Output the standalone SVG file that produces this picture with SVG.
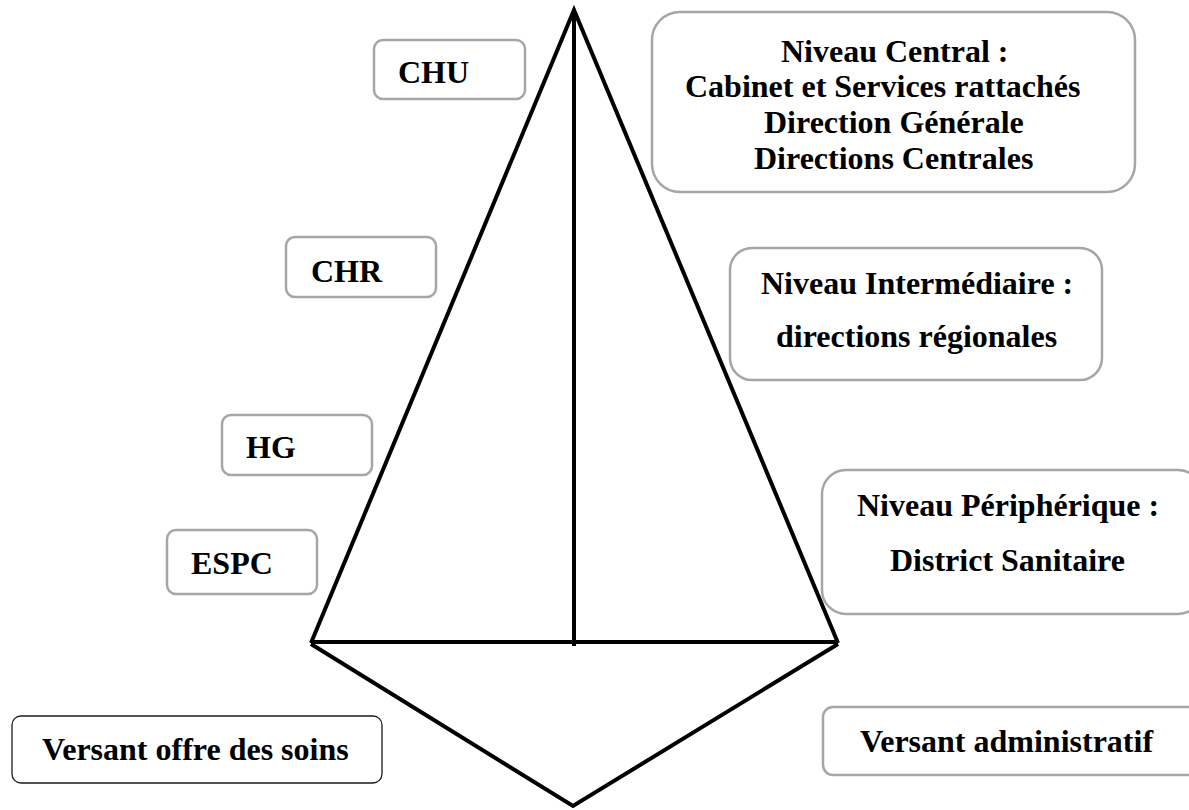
<svg xmlns="http://www.w3.org/2000/svg" width="1189" height="810" viewBox="0 0 1189 810">
<style>
.box{fill:#fff;stroke:#a6a6a6;stroke-width:2.5}
.dark{fill:#fff;stroke:#1a1a1a;stroke-width:1.3}
.t{font-family:"Liberation Serif","Times New Roman",serif;font-weight:bold;font-size:32px;fill:#000}
.ln{stroke:#000;stroke-width:4;fill:none;stroke-linejoin:miter;stroke-linecap:butt}
</style>
<rect width="1189" height="810" fill="#fff"/>
<g id="connectors">
<polyline class="ln" points="311,643 574,10 838,643"/>
<line class="ln" x1="574" y1="10" x2="574" y2="646"/>
<line class="ln" x1="311" y1="642" x2="838" y2="642"/>
<polyline class="ln" points="311,644 573,806 838,644"/>
</g>
<g id="chu"><rect class="box" x="374" y="40" width="151" height="59" rx="9"/><text class="t" x="398" y="83">CHU</text></g>
<g id="chr"><rect class="box" x="286" y="237" width="150" height="60" rx="9"/><text class="t" x="311" y="282">CHR</text></g>
<g id="hg"><rect class="box" x="222" y="415" width="150" height="60" rx="9"/><text class="t" x="246" y="458">HG</text></g>
<g id="espc"><rect class="box" x="167" y="530" width="150" height="64" rx="9"/><text class="t" x="191" y="574">ESPC</text></g>
<g id="central"><rect class="box" x="652" y="12" width="483" height="180" rx="28"/>
<text class="t" x="781" y="62">Niveau Central :</text>
<text class="t" x="685" y="97">Cabinet et Services rattachés</text>
<text class="t" x="764" y="133">Direction Générale</text>
<text class="t" x="754" y="169">Directions Centrales</text></g>
<g id="intermediaire"><rect class="box" x="730" y="248" width="372" height="132" rx="22"/>
<text class="t" x="761" y="294">Niveau Intermédiaire :</text>
<text class="t" x="776" y="347">directions régionales</text></g>
<g id="peripherique"><rect class="box" x="822" y="470" width="380" height="144" rx="24"/>
<text class="t" x="857" y="516">Niveau Périphérique :</text>
<text class="t" x="890" y="571">District Sanitaire</text></g>
<g id="versant-soins"><rect class="dark" x="12" y="716" width="370" height="67" rx="9"/><text class="t" x="42" y="760">Versant offre des soins</text></g>
<g id="versant-admin"><rect class="box" x="823" y="707" width="378" height="68" rx="10"/><text class="t" x="860" y="752">Versant administratif</text></g>
</svg>
